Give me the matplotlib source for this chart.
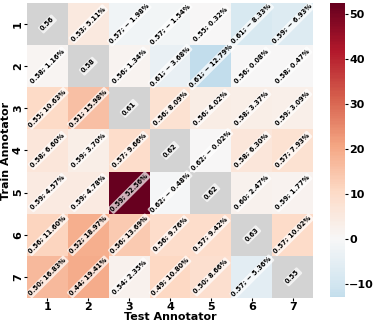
import matplotlib
matplotlib.use("Agg")
import matplotlib.pyplot as plt
import numpy as np
import seaborn as sns

annotators = ["1", "2", "3", "4", "5", "6", "7"]

# accuracy of each train/test annotator pair
scores = np.array([
    [0.56, 0.53, 0.57, 0.57, 0.55, 0.61, 0.59],
    [0.58, 0.58, 0.56, 0.61, 0.61, 0.56, 0.58],
    [0.55, 0.51, 0.61, 0.56, 0.56, 0.58, 0.59],
    [0.58, 0.59, 0.57, 0.62, 0.62, 0.58, 0.57],
    [0.59, 0.59, 0.59, 0.62, 0.62, 0.60, 0.59],
    [0.56, 0.52, 0.56, 0.56, 0.57, 0.63, 0.57],
    [0.50, 0.44, 0.54, 0.49, 0.50, 0.57, 0.55],
])

# relative change (%) against the diagonal
changes = np.array([
    [0.00, 5.11, -1.98, -1.54, 0.32, -8.33, -6.93],
    [1.16, 0.00, 1.34, -3.68, -12.79, 0.08, 0.47],
    [10.63, 15.98, 0.00, 8.09, 4.02, 3.37, 3.09],
    [6.60, 3.70, 9.66, 0.00, -0.02, 6.30, 7.93],
    [4.57, 4.78, 52.56, -0.48, 0.00, 2.47, 1.77],
    [11.60, 18.97, 13.69, 9.76, 9.42, 0.00, 10.02],
    [16.83, 19.41, 2.35, 10.80, 8.66, -5.36, 0.00],
])

fig = plt.figure(figsize=(3.73, 3.26), dpi=100)
ax = fig.add_axes([0.0724, 0.086, 0.767, 0.905])
cax = fig.add_axes([0.885, 0.089, 0.04, 0.902])

mask = np.eye(len(annotators), dtype=bool)
ax.set_facecolor("#d3d3d3")
sns.heatmap(changes, mask=mask, cmap="RdBu_r", center=0,
            vmin=changes.min(), vmax=changes.max(),
            ax=ax, cbar_ax=cax,
            xticklabels=annotators, yticklabels=annotators)

n = len(annotators)
for i in range(n):
    for j in range(n):
        if i == j:
            label = f"{scores[i, j]:.2f}"
        else:
            c = changes[i, j]
            if c < 0:
                label = f"{scores[i, j]:.2f}; \u2212 {abs(c):.2f}%"
            else:
                label = f"{scores[i, j]:.2f}; {c:.2f}%"
        ax.text(j + 0.5, i + 0.5, label, rotation=45, ha="center",
                va="center", fontsize=4.9, fontweight="bold",
                bbox=dict(boxstyle="round,pad=0.2", fc="white",
                          ec="none", alpha=0.7))

ax.set_xlabel("Test Annotator", fontsize=8, fontweight="bold", labelpad=0)
ax.set_ylabel("Train Annotator", fontsize=8, fontweight="bold", labelpad=1)
ax.tick_params(labelsize=8, length=2, pad=1)
for t in ax.get_xticklabels() + ax.get_yticklabels():
    t.set_fontweight("bold")
for t in ax.get_yticklabels():
    t.set_rotation(90)
    t.set_va("center")

cax.set_yticks([-10, 0, 10, 20, 30, 40, 50])
cax.tick_params(labelsize=8, length=2, pad=1)
for t in cax.get_yticklabels():
    t.set_fontweight("bold")

fig.savefig("out.png", dpi=100)
